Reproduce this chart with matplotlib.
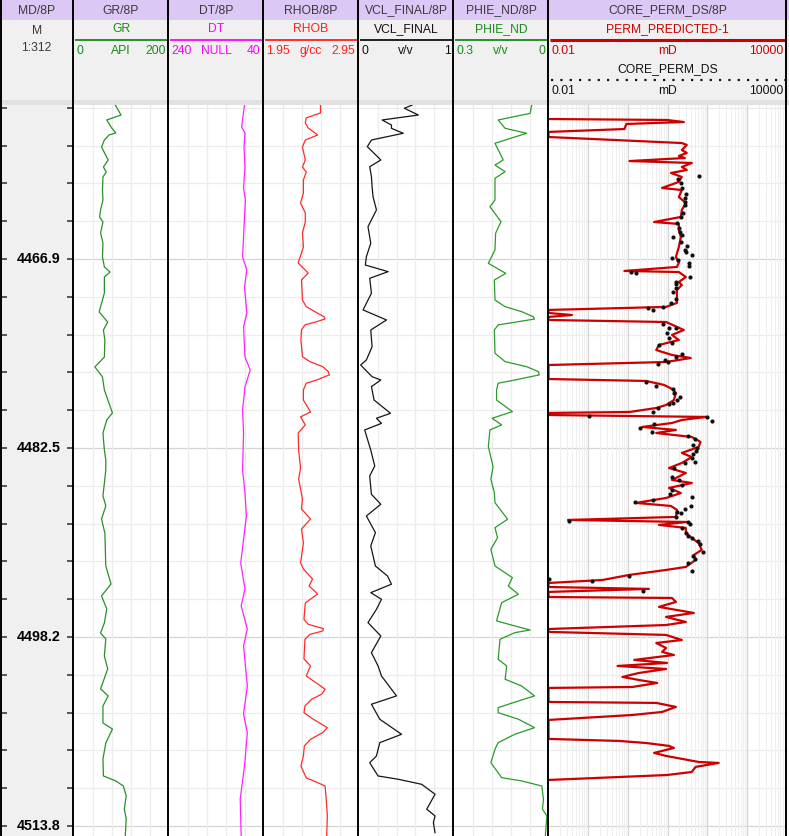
import numpy as np
import matplotlib.pyplot as plt
from matplotlib.patches import Rectangle
from matplotlib.ticker import NullLocator

plt.rcParams['font.family'] = ['Liberation Sans', 'DejaVu Sans']

depth_ticks = 4466.9 + 3.13 * np.arange(-4, 16)
depth_labels = ['4466.9', '4482.5', '4498.2', '4513.8']

gr_depth = [4454.15, 4454.98, 4455.39, 4455.97, 4456.47, 4456.63, 4457.05, 4457.63, 4458.70, 4459.28,
            4459.70, 4460.11, 4461.19, 4462.02, 4462.84, 4463.42, 4463.84, 4464.75, 4465.58, 4466.73,
            4467.56, 4467.98, 4468.39, 4469.72, 4471.29, 4472.12, 4472.78, 4473.61, 4475.02, 4475.84,
            4476.67, 4477.75, 4479.65, 4480.23, 4481.31, 4482.72, 4483.54, 4484.37, 4485.45, 4486.52,
            4487.35, 4488.43, 4489.59, 4492.32, 4493.81, 4494.80, 4495.88, 4497.04, 4497.87, 4498.36,
            4499.77, 4500.85, 4502.50, 4503.08, 4503.91, 4505.32, 4505.82, 4506.98, 4508.30, 4509.71,
            4510.12, 4510.54, 4511.36, 4512.44, 4513.27, 4514.68]
gr_val = [88, 100, 70, 79, 89, 75, 65, 59, 73, 63,
          69, 62, 61, 62, 57, 55, 62, 57, 62, 61,
          65, 77, 65, 65, 54, 72, 63, 66, 65, 45,
          61, 65, 82, 70, 62, 65, 68, 68, 65, 62,
          68, 59, 66, 68, 79, 59, 70, 65, 57, 68,
          65, 72, 57, 73, 62, 62, 82, 68, 62, 63,
          89, 105, 111, 107, 111, 109]

dt_depth = [4454.15, 4455.97, 4456.47, 4457.63, 4459.28, 4461.02, 4462.02, 4463.42, 4466.73, 4467.81,
            4469.22, 4471.37, 4472.53, 4475.02, 4476.09, 4477.50, 4479.40, 4481.31, 4484.37, 4486.28,
            4488.18, 4492.07, 4494.22, 4495.63, 4497.54, 4498.94, 4502.26, 4504.57, 4506.15, 4508.88,
            4511.61, 4514.68]
dt_val = [80, 86, 79, 81, 79, 82, 78, 80, 84, 75,
          80, 75, 82, 79, 68, 79, 84, 82, 84, 79,
          76, 88, 79, 87, 74, 82, 74, 82, 74, 80,
          89, 87]

rhob_depth = [4454.15, 4454.81, 4455.22, 4455.64, 4456.05, 4456.63, 4457.05, 4457.63, 4458.70, 4459.28,
              4459.70, 4460.36, 4461.43, 4462.26, 4463.09, 4463.84, 4464.75, 4465.91, 4467.23, 4468.06,
              4468.64, 4470.30, 4470.85, 4471.26, 4471.68, 4471.87, 4472.09, 4472.36, 4472.78, 4473.61,
              4474.99, 4475.40, 4475.82, 4476.23, 4476.50, 4476.92, 4477.19, 4477.75, 4478.58, 4479.57,
              4479.98, 4480.64, 4481.31, 4482.72, 4484.21, 4485.12, 4486.77, 4487.60, 4488.43, 4489.26,
              4490.42, 4492.07, 4492.57, 4493.40, 4493.98, 4494.64, 4495.38, 4496.74, 4497.15, 4497.51,
              4497.70, 4497.98, 4498.39, 4500.02, 4500.60, 4501.43, 4502.12, 4502.53, 4502.94, 4503.36,
              4503.91, 4504.47, 4505.01, 4505.71, 4506.12, 4506.67, 4507.22, 4508.05, 4508.88, 4509.87,
              4510.12, 4510.54, 4511.61, 4513.02, 4514.68]
rhob_val = [2.55, 2.55, 2.40, 2.39, 2.42, 2.52, 2.39, 2.36, 2.39, 2.36,
            2.40, 2.37, 2.37, 2.34, 2.39, 2.39, 2.36, 2.37, 2.315, 2.42,
            2.35, 2.36, 2.40, 2.49, 2.587, 2.598, 2.51, 2.386, 2.35, 2.344,
            2.36, 2.439, 2.573, 2.633, 2.643, 2.51, 2.40, 2.37, 2.37, 2.445,
            2.34, 2.39, 2.315, 2.32, 2.34, 2.32, 2.36, 2.35, 2.445, 2.35,
            2.37, 2.34, 2.37, 2.466, 2.43, 2.52, 2.39, 2.376, 2.42, 2.58,
            2.575, 2.44, 2.386, 2.376, 2.445, 2.40, 2.527, 2.598, 2.562, 2.456,
            2.386, 2.376, 2.474, 2.622, 2.573, 2.445, 2.38, 2.37, 2.344, 2.40,
            2.48, 2.598, 2.61, 2.622, 2.615]

vcl_depth = [4454.15, 4454.42, 4454.98, 4455.39, 4455.81, 4456.08, 4456.49, 4457.05, 4457.60, 4458.70,
             4459.26, 4460.08, 4460.91, 4461.74, 4462.84, 4463.40, 4464.22, 4465.60, 4466.71, 4467.40,
             4467.95, 4468.50, 4469.74, 4471.12, 4471.95, 4472.78, 4474.16, 4475.26, 4475.68, 4476.65,
             4476.92, 4477.47, 4478.58, 4479.68, 4480.09, 4480.51, 4481.06, 4482.72, 4484.04, 4484.87,
             4486.38, 4487.21, 4488.18, 4489.56, 4490.66, 4492.32, 4493.15, 4493.83, 4494.53, 4495.08,
             4495.91, 4497.01, 4498.12, 4499.50, 4500.60, 4501.43, 4503.08, 4503.77, 4505.01, 4506.26,
             4506.95, 4508.05, 4508.61, 4509.71, 4509.98, 4510.40, 4510.81, 4511.22, 4512.46, 4513.02,
             4513.57, 4514.40]
vcl_val = [0.566, 0.483, 0.63, 0.249, 0.347, 0.347, 0.471, 0.136, 0.093, 0.235,
           0.118, 0.136, 0.143, 0.153, 0.189, 0.153, 0.10, 0.129, 0.083, 0.072,
           0.312, 0.118, 0.136, 0.048, 0.295, 0.129, 0.143, 0.083, 0.023, 0.143,
           0.235, 0.136, 0.164, 0.337, 0.189, 0.242, 0.065, 0.129, 0.171, 0.118,
           0.136, 0.235, 0.083, 0.178, 0.129, 0.178, 0.305, 0.347, 0.129, 0.242,
           0.189, 0.10, 0.235, 0.136, 0.206, 0.242, 0.40, 0.136, 0.224, 0.453,
           0.224, 0.189, 0.118, 0.206, 0.418, 0.665, 0.735, 0.806, 0.718, 0.806,
           0.788, 0.806]

phie_depth = [4454.15, 4454.84, 4455.39, 4456.08, 4456.49, 4457.32, 4458.70, 4459.12, 4459.67, 4460.22,
              4462.02, 4462.57, 4463.81, 4464.77, 4466.15, 4467.26, 4468.09, 4468.64, 4470.30, 4470.85,
              4471.26, 4471.68, 4471.87, 4472.09, 4472.36, 4472.78, 4474.71, 4475.40, 4475.82, 4476.23,
              4476.50, 4476.92, 4477.19, 4477.75, 4478.58, 4479.54, 4480.09, 4480.64, 4481.06, 4482.44,
              4484.10, 4485.14, 4486.25, 4487.08, 4488.45, 4489.15, 4489.98, 4490.94, 4492.32, 4493.29,
              4493.98, 4494.66, 4495.36, 4496.87, 4497.29, 4497.62, 4497.84, 4498.39, 4500.05, 4500.60,
              4501.70, 4502.26, 4503.08, 4503.50, 4504.05, 4504.47, 4505.01, 4505.71, 4506.25, 4506.95,
              4507.50, 4508.61, 4509.85, 4510.12, 4510.54, 4511.64, 4512.46, 4513.02, 4514.68]
phie_val = [0.053, 0.058, 0.159, 0.137, 0.069, 0.169, 0.143, 0.169, 0.137, 0.169,
            0.169, 0.185, 0.150, 0.167, 0.169, 0.190, 0.135, 0.171, 0.169, 0.137,
            0.085, 0.048, 0.044, 0.095, 0.159, 0.171, 0.169, 0.137, 0.069, 0.032,
            0.029, 0.106, 0.159, 0.164, 0.164, 0.114, 0.178, 0.148, 0.185, 0.190,
            0.175, 0.182, 0.171, 0.169, 0.129, 0.169, 0.161, 0.182, 0.169, 0.114,
            0.127, 0.095, 0.148, 0.164, 0.106, 0.058, 0.106, 0.153, 0.159, 0.132,
            0.137, 0.085, 0.044, 0.095, 0.159, 0.159, 0.095, 0.044, 0.106, 0.159,
            0.169, 0.182, 0.148, 0.085, 0.021, 0.016, 0.019, 0.005, 0.010]

perm_depth = [4455.31, 4455.39, 4455.56, 4455.72, 4456.14, 4456.38, 4456.80, 4457.30, 4457.46, 4457.88,
              4458.12, 4458.37, 4458.54, 4458.79, 4458.95, 4459.28, 4459.53, 4459.78, 4460.11, 4460.52,
              4461.02, 4461.19, 4461.77, 4462.26, 4462.84, 4463.42, 4463.84, 4464.00, 4464.50, 4465.08,
              4465.91, 4466.73, 4467.23, 4467.56, 4467.89, 4467.98, 4468.39, 4468.81, 4469.05, 4469.47,
              4470.54, 4470.87, 4471.12, 4471.37, 4471.54, 4471.70, 4471.95, 4472.12, 4472.78, 4473.19,
              4473.61, 4474.02, 4474.44, 4474.85, 4475.10, 4475.43, 4475.68, 4476.84, 4477.00, 4477.33,
              4477.66, 4477.99, 4478.58, 4478.99, 4479.24, 4479.57, 4479.65, 4479.82, 4479.98, 4480.23,
              4480.48, 4480.81, 4481.06, 4481.31, 4481.64, 4482.05, 4482.47, 4482.96, 4483.30, 4483.79,
              4484.21, 4484.62, 4485.20, 4485.45, 4485.86, 4486.28, 4486.69, 4487.10, 4487.35, 4487.68,
              4488.26, 4488.51, 4488.68, 4488.92, 4489.17, 4489.59, 4490.00, 4490.42, 4490.99, 4491.41,
              4491.82, 4492.40, 4492.65, 4493.06, 4493.48, 4493.73, 4494.06, 4494.22, 4494.47, 4494.89,
              4494.97, 4495.30, 4495.71, 4496.21, 4496.54, 4496.96, 4497.21, 4497.54, 4497.78, 4498.03,
              4498.45, 4498.70, 4499.11, 4499.44, 4499.69, 4500.10, 4500.35, 4500.60, 4500.85, 4501.18,
              4501.51, 4501.76, 4502.01, 4502.34, 4502.42, 4503.58, 4503.66, 4503.99, 4504.41, 4504.66,
              4505.07, 4506.64, 4506.81, 4506.98, 4507.22, 4507.39, 4507.80, 4508.05, 4508.55, 4508.63,
              4508.96, 4509.38, 4509.63, 4510.04]
perm_val = [0.01, 9.7, 25.8, 0.92, 0.82, 0.01, 0.01, 23, 30.6, 23,
            30.6, 19.3, 27.3, 1.1, 41, 23, 30.6, 12.2, 23, 19.3,
            7.3, 23, 19.3, 29, 23, 21.7, 4.6, 19.3, 19.3, 21.7,
            19.3, 16.3, 19.3, 17.3, 0.82, 19.3, 29, 19.3, 23, 17.3,
            17.3, 9.2, 0.01, 0.01, 0.039, 0.01, 0.01, 9.2, 25.8, 13,
            19.3, 6.1, 5.2, 13, 38.5, 9.2, 0.01, 0.01, 2.9, 8.2,
            13, 16.3, 14.5, 9.2, 5.2, 1.1, 0.01, 0.01, 97, 23,
            13, 2.3, 16.3, 5.2, 41, 68, 61, 23, 41, 23,
            10.9, 29, 13, 41, 10.9, 21.7, 9.2, 1.6, 12.2, 17.3,
            16.3, 0.031, 30.6, 6.1, 29, 29, 41, 61, 73, 46,
            51, 29, 9.2, 1.1, 0.23, 0.01, 0.01, 3.4, 0.01, 0.01,
            13, 16.3, 6.1, 46, 9.2, 29, 9.2, 0.01, 0.01, 9.2,
            23, 5.2, 9.2, 7.3, 14.5, 1.45, 9.7, 0.55, 9.2, 1.9,
            0.73, 1.9, 5.5, 1.3, 0.01, 0.01, 5.2, 16.3, 7.3, 1.3,
            0.01, 0.01, 0.61, 2.9, 10.9, 14.5, 4.6, 9.2, 61, 195,
            51, 41, 9.7, 0.01]

core_depth = [4460.03, 4460.28, 4460.61, 4461.02, 4461.52, 4461.85, 4462.18, 4462.43, 4463.09, 4463.42,
              4463.92, 4464.33, 4464.66, 4464.91, 4465.08, 4465.49, 4465.82, 4466.15, 4466.32, 4466.57,
              4466.82, 4466.98, 4467.23, 4467.48, 4467.98, 4468.06, 4468.39, 4468.81, 4468.97, 4469.30,
              4469.63, 4470.21, 4470.54, 4470.87, 4470.96, 4471.12, 4472.28, 4472.61, 4472.61, 4473.03,
              4473.44, 4473.86, 4474.02, 4474.77, 4475.02, 4475.26, 4475.43, 4475.59, 4477.08, 4477.42,
              4477.66, 4477.99, 4478.33, 4478.58, 4478.82, 4478.91, 4479.24, 4479.57, 4479.90, 4479.98,
              4480.31, 4480.56, 4480.89, 4481.22, 4481.56, 4481.80, 4482.30, 4482.55, 4482.80, 4483.05,
              4483.38, 4483.71, 4483.79, 4484.21, 4484.95, 4485.20, 4485.61, 4486.03, 4486.36, 4486.61,
              4486.86, 4487.02, 4487.35, 4487.60, 4487.85, 4487.93, 4488.26, 4488.59, 4488.68, 4488.84,
              4489.17, 4489.59, 4489.84, 4490.00, 4490.25, 4490.50, 4491.16, 4491.49, 4491.74, 4492.07,
              4492.73, 4493.15, 4493.40, 4493.56, 4494.39]
core_val = [61, 18.6, 21.4, 23.4, 28.5, 27.3, 26.9, 26.9, 24.5, 21.4,
            17.6, 19.4, 20.5, 23.4, 13.7, 21.4, 31.3, 26.9, 28.5, 41.7,
            13.2, 18.6, 34.4, 34.4, 1.2, 1.6, 36.5, 16.6, 16, 16,
            14, 16.6, 12, 7.9, 3.2, 4.2, 7.7, 11, 16, 9.9,
            11, 13.2, 6.1, 23.4, 16, 8.7, 10.5, 5.6, 2.85, 5.1,
            14, 14.5, 20.5, 17.6, 14, 11, 5.9, 4.4, 0.105, 98,
            132, 4.6, 2.0, 4.0, 32, 50.7, 43.4, 55.6, 52.5, 43.4,
            40.3, 50.7, 26.9, 14.5, 13.2, 19.4, 23.4, 12.7, 11.6, 41.7,
            4.2, 1.5, 39.4, 27.3, 17, 22, 16.6, 0.032, 33.3, 36,
            23.4, 28.5, 32.6, 40.3, 58.9, 64.9, 77, 44, 48.6, 33.3,
            41.7, 1.1, 0.0101, 0.127, 2.4]

# ---------------- layout (pixels) ----------------
W, H = 789, 836
TOP, BOT = 105, 836
edges = [0.5, 73.5, 168.5, 263.5, 358.5, 453.5, 548.5, 786.5]
d_top, d_bot = 4454.15, 4514.68

fig = plt.figure(figsize=(W / 100, H / 100), dpi=100)
bg = fig.add_axes([0, 0, 1, 1])
bg.set_xlim(0, W)
bg.set_ylim(H, 0)
bg.axis('off')
bg.add_patch(Rectangle((0, 0), W, 20, color='#dcc8f4', lw=0))
bg.add_patch(Rectangle((0, 20), W, 80, color='#f0f0f0', lw=0))
bg.add_patch(Rectangle((0, 100), W, 5, color='#e1e1e1', lw=0))
bg.add_patch(Rectangle((0, TOP), edges[1], BOT - TOP, color='#f0f0f0', lw=0))

titles = ['MD/8P', 'GR/8P', 'DT/8P', 'RHOB/8P', 'VCL_FINAL/8P', 'PHIE_ND/8P', 'CORE_PERM_DS/8P']
for i, t in enumerate(titles):
    bg.text((edges[i] + edges[i + 1]) / 2, 10.5, t, ha='center', va='center',
            fontsize=8.7, color='#3a3a3a')

bg.text(edges[1] / 2, 31, 'M', ha='center', va='center', fontsize=8.7, color='#3a3a3a')
bg.text(edges[1] / 2, 48, '1:312', ha='center', va='center', fontsize=8.7, color='#3a3a3a')


def header(i, name, color, left, unit, right, y0=29, lw=1.3):
    x0, x1 = edges[i], edges[i + 1]
    bg.text((x0 + x1) / 2, y0, name, ha='center', va='center', fontsize=8.7, color=color)
    bg.plot([x0 + 1.5, x1 - 1.5], [y0 + 11, y0 + 11], color=color, lw=lw, solid_capstyle='butt')
    bg.text(x0 + 3, y0 + 22, left, ha='left', va='center', fontsize=8.7, color=color)
    bg.text((x0 + x1) / 2, y0 + 22, unit, ha='center', va='center', fontsize=8.7, color=color)
    bg.text(x1 - 3, y0 + 22, right, ha='right', va='center', fontsize=8.7, color=color)


header(1, 'GR', '#1a8a1a', '0', 'API', '200')
header(2, 'DT', '#ff00ff', '240', 'NULL', '40')
header(3, 'RHOB', '#ff2020', '1.95', 'g/cc', '2.95')
header(4, 'VCL_FINAL', '#111111', '0', 'v/v', '1')
header(5, 'PHIE_ND', '#1a8a1a', '0.3', 'v/v', '0')
header(6, 'PERM_PREDICTED-1', '#cc0000', '0.01', 'mD', '10000', lw=2.2)
px0, px1 = edges[6], edges[7]
bg.text((px0 + px1) / 2, 69, 'CORE_PERM_DS', ha='center', va='center', fontsize=8.7, color='#111111')
bg.plot([px0 + 3, px1 - 1], [80, 80], color='#111111', lw=1.6, linestyle=(0, (1, 3.2)))
bg.text(px0 + 3, 91, '0.01', ha='left', va='center', fontsize=8.7, color='#111111')
bg.text((px0 + px1) / 2, 91, 'mD', ha='center', va='center', fontsize=8.7, color='#111111')
bg.text(px1 - 3, 91, '10000', ha='right', va='center', fontsize=8.7, color='#111111')


def hide_ticks(ax):
    for a in (ax.xaxis, ax.yaxis):
        a.set_major_locator(NullLocator())
        a.set_minor_locator(NullLocator())


def track(i, facecolor='white'):
    x0, x1 = edges[i], edges[i + 1]
    ax = fig.add_axes([x0 / W, 1 - BOT / H, (x1 - x0) / W, (BOT - TOP) / H], facecolor=facecolor)
    ax.set_ylim(d_bot, d_top)
    hide_ticks(ax)
    for s in ax.spines.values():
        s.set_visible(False)
    return ax


def hgrid(ax):
    for k, d in enumerate(depth_ticks):
        major = k % 5 == 4
        ax.axhline(d, color='#d4d4d4' if major else '#ececec', lw=0.9, zorder=0)


# depth track
md = track(0, facecolor='#f0f0f0')
md.set_xlim(0, 1)
for k, d in enumerate(depth_ticks):
    md.plot([0.02, 0.09], [d, d], color='#555555', lw=1.4, solid_capstyle='butt')
    md.plot([0.91, 1.0], [d, d], color='#555555', lw=1.4, solid_capstyle='butt')
    if k % 5 == 4:
        md.text(0.52, d, depth_labels[k // 5], ha='center', va='center',
                fontsize=10.3, fontweight='bold', color='black')

curves = [
    (1, gr_depth, gr_val, (0, 200), '#2a8f2a'),
    (2, dt_depth, dt_val, (240, 40), '#ff22ff'),
    (3, rhob_depth, rhob_val, (1.95, 2.95), '#ff2a2a'),
    (4, vcl_depth, vcl_val, (0, 1), '#151515'),
    (5, phie_depth, phie_val, (0.3, 0), '#2a9a2a'),
]
for i, dep, val, lim, col in curves:
    ax = track(i)
    ax.set_xlim(*lim)
    hgrid(ax)
    for k in range(1, 5):
        ax.axvline(lim[0] + (lim[1] - lim[0]) * k / 5, color='#ececec', lw=0.9, zorder=0)
    ax.plot(val, dep, color=col, lw=0.9)

pax = track(6)
pax.set_xscale('log')
pax.set_xlim(0.01, 10000)
hide_ticks(pax)
hgrid(pax)
for dec in [0.01, 0.1, 1, 10, 100, 1000]:
    for m in range(2, 10):
        pax.axvline(dec * m, color='#efefef', lw=0.8, zorder=0)
    if dec > 0.01:
        pax.axvline(dec, color='#d4d4d4', lw=0.9, zorder=0)
pax.plot(perm_val, perm_depth, color='#cc0000', lw=1.6)
pax.scatter(core_val, core_depth, s=9, color='#111111', zorder=5, clip_on=False, linewidths=0)

# track separators on top
ov = fig.add_axes([0, 0, 1, 1], facecolor='none')
ov.set_xlim(0, W)
ov.set_ylim(H, 0)
ov.axis('off')
for x in edges:
    ov.plot([x, x], [0, H], color='black', lw=1.4, solid_capstyle='butt')

fig.savefig('out.png', dpi=100)
